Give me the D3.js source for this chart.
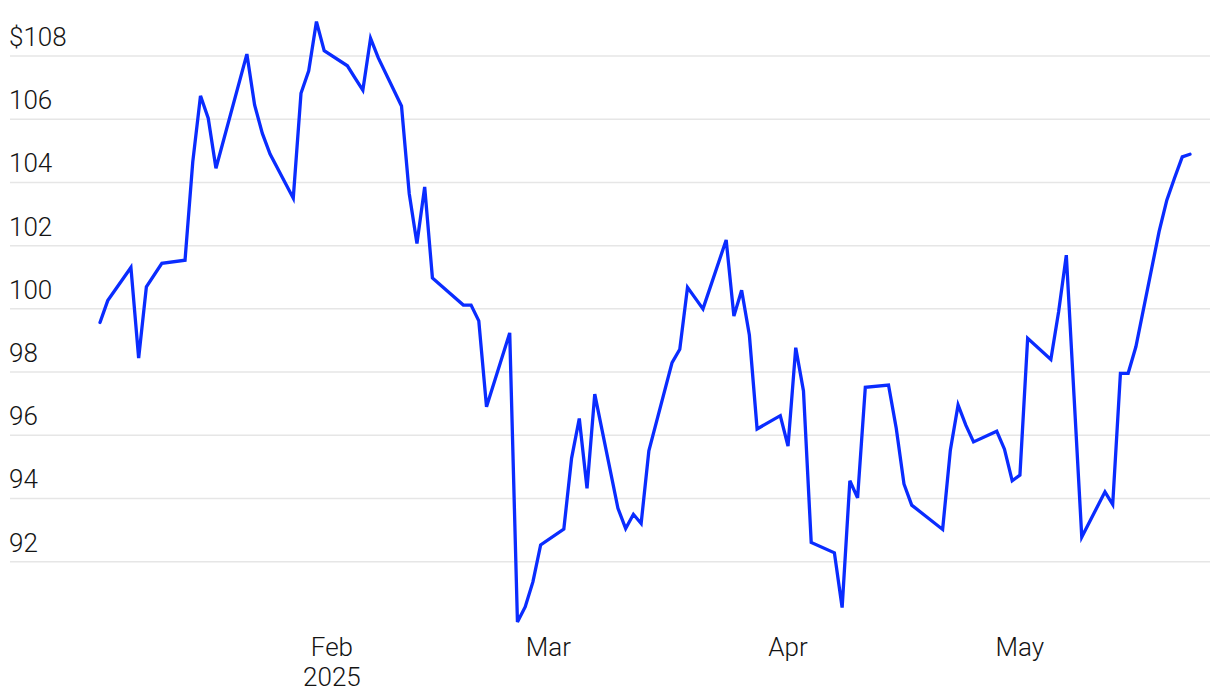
<!DOCTYPE html>
<meta charset="utf-8">
<style>
  body { margin: 0; background: #fff; }
  text { font-family: Roboto, "Liberation Sans", sans-serif; font-weight: 300; fill: #141414; }
</style>
<div id="chart"></div>
<script src="https://cdn.jsdelivr.net/npm/d3@7"></script>
<script>

// trading days, Jan 2 .. May 23 2025
var dates = [
  "2025-01-02","2025-01-03","2025-01-06","2025-01-07","2025-01-08","2025-01-10",
  "2025-01-13","2025-01-14","2025-01-15","2025-01-16","2025-01-17",
  "2025-01-21","2025-01-22","2025-01-23","2025-01-24",
  "2025-01-27","2025-01-28","2025-01-29","2025-01-30","2025-01-31",
  "2025-02-03","2025-02-04","2025-02-05","2025-02-06","2025-02-07",
  "2025-02-10","2025-02-11","2025-02-12","2025-02-13","2025-02-14",
  "2025-02-18","2025-02-19","2025-02-20","2025-02-21",
  "2025-02-24","2025-02-25","2025-02-26","2025-02-27","2025-02-28",
  "2025-03-03","2025-03-04","2025-03-05","2025-03-06","2025-03-07",
  "2025-03-10","2025-03-11","2025-03-12","2025-03-13","2025-03-14",
  "2025-03-17","2025-03-18","2025-03-19","2025-03-20","2025-03-21",
  "2025-03-24","2025-03-25","2025-03-26","2025-03-27","2025-03-28",
  "2025-03-31","2025-04-01","2025-04-02","2025-04-03","2025-04-04",
  "2025-04-07","2025-04-08","2025-04-09","2025-04-10","2025-04-11",
  "2025-04-14","2025-04-15","2025-04-16","2025-04-17",
  "2025-04-21","2025-04-22","2025-04-23","2025-04-24","2025-04-25",
  "2025-04-28","2025-04-29","2025-04-30","2025-05-01","2025-05-02",
  "2025-05-05","2025-05-06","2025-05-07","2025-05-08","2025-05-09",
  "2025-05-12","2025-05-13","2025-05-14","2025-05-15","2025-05-16",
  "2025-05-19","2025-05-20","2025-05-21","2025-05-22","2025-05-23"
];

var prices = [
  99.57,100.26,101.31,98.44,100.70,101.44,
  101.54,104.65,106.74,106.03,104.45,
  108.06,106.45,105.55,104.90,
  103.50,106.82,107.53,109.09,108.17,
  107.69,107.30,106.92,108.56,107.94,
  106.42,103.65,102.07,103.86,100.98,
  100.12,100.12,99.62,96.90,
  99.24,90.09,90.57,91.36,92.53,
  93.03,95.27,96.53,94.32,97.30,
  93.69,93.05,93.50,93.21,95.51,
  98.30,98.72,100.68,100.34,100.00,
  102.18,99.77,100.59,99.17,96.20,
  96.62,95.66,98.77,97.40,92.61,
  92.28,90.55,94.56,94.02,97.52,
  97.59,96.22,94.46,93.79,
  93.02,95.53,96.96,96.32,95.79,
  96.13,95.56,94.56,94.74,99.07,
  98.40,99.90,101.70,97.24,92.78,
  94.21,93.81,97.96,97.96,98.80,
  102.44,103.44,104.14,104.81,104.89
];

var yTicks = [92, 94, 96, 98, 100, 102, 104, 106, 108];
var xTicks = ["2025-02-01", "2025-03-01", "2025-04-01", "2025-05-01"];
var xTickLabels = ["Feb", "Mar", "Apr", "May"];

var width = 1220, height = 700;
var parse = d3.utcParse("%Y-%m-%d");

var data = dates.map(function(d, i) { return { date: parse(d), value: prices[i] }; });

var svg = d3.select("#chart").append("svg")
    .attr("width", width)
    .attr("height", height);

var x = d3.scaleUtc()
    .domain([parse("2025-01-02"), parse("2025-05-23")])
    .range([100, 1190]);

var y = d3.scaleLinear()
    .domain([92, 108])
    .range([561.7, 56]);

// grid + y labels
var grid = svg.append("g");
grid.selectAll("line")
    .data(yTicks)
    .enter().append("line")
    .attr("x1", 10)
    .attr("x2", 1210)
    .attr("y1", function(d) { return y(d); })
    .attr("y2", function(d) { return y(d); })
    .attr("stroke", "#e6e6e6")
    .attr("stroke-width", 1.5);

grid.selectAll("text")
    .data(yTicks)
    .enter().append("text")
    .attr("x", 9)
    .attr("y", function(d) { return y(d) - 10; })
    .attr("font-size", 26)
    .text(function(d) { return d === 108 ? "$" + d : d; });

// x labels
var xg = svg.append("g");
xg.selectAll("text")
    .data(xTicks)
    .enter().append("text")
    .attr("x", function(d) { return x(parse(d)); })
    .attr("y", 656)
    .attr("text-anchor", "middle")
    .attr("font-size", 26)
    .text(function(d, i) { return xTickLabels[i]; });

xg.append("text")
    .attr("x", x(parse(xTicks[0])))
    .attr("y", 686)
    .attr("text-anchor", "middle")
    .attr("font-size", 26)
    .text("2025");

var line = d3.line()
    .x(function(d) { return x(d.date); })
    .y(function(d) { return y(d.value); });

svg.append("path")
    .datum(data)
    .attr("fill", "none")
    .attr("stroke", "#0a2cff")
    .attr("stroke-width", 3.3)
    .attr("stroke-linejoin", "miter")
    .attr("stroke-linecap", "round")
    .attr("d", line);

</script>
